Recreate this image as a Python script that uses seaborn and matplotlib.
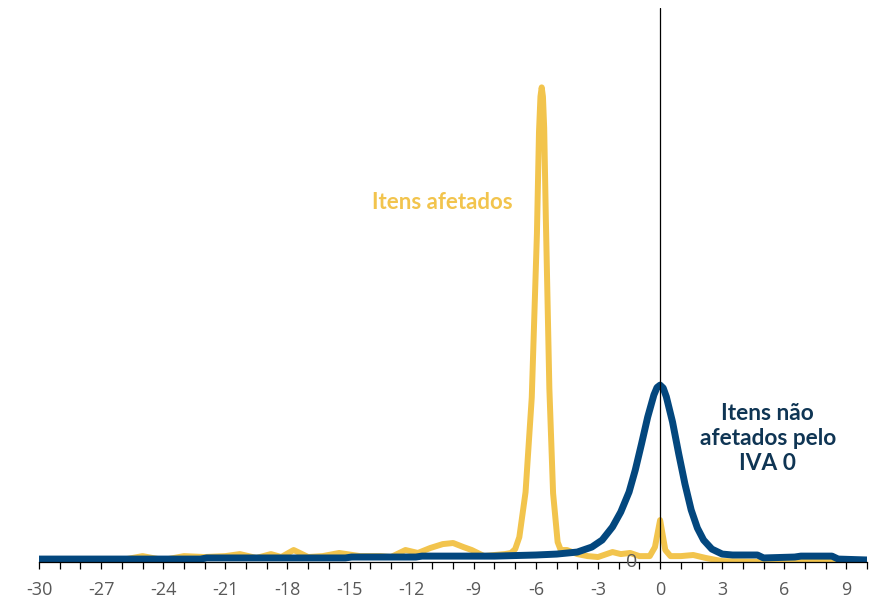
import numpy as np
import pandas as pd
import matplotlib
matplotlib.use("Agg")
import matplotlib.pyplot as plt
import seaborn as sns

# price change (%) vs share of items (%)
x_afetados = [-30, -29, -28, -27, -26.5, -26, -25, -24, -23, -22, -21, -20.3, -19.5,
              -18.8, -18.3, -17.7, -17.0, -16.3, -15.5, -14.5, -13.5, -13.0, -12.3,
              -11.7, -11.1, -10.5, -10.0, -9.5, -9.1, -8.5, -8.0, -7.5, -7.2, -7.0,
              -6.8, -6.5, -6.2, -5.95, -5.85, -5.78, -5.72, -5.66, -5.6, -5.52, -5.35,
              -5.17, -4.95, -4.8, -4.5, -4.0, -3.5, -3.0, -2.3, -1.9, -1.45, -1.0, -0.5,
              -0.25, 0, 0.25, 0.5, 1.0, 1.6, 2.2, 3.0, 4, 5, 6, 7, 8, 9, 10]
y_afetados = [0.05, 0.05, 0.05, 0.16, 0.16, 0.11, 0.32, 0.11, 0.32, 0.27, 0.32, 0.43, 0.22,
              0.43, 0.27, 0.65, 0.27, 0.32, 0.49, 0.32, 0.32, 0.27, 0.65,
              0.49, 0.76, 0.97, 1.03, 0.81, 0.65, 0.32, 0.38, 0.43, 0.49, 0.70,
              1.35, 3.78, 8.91, 17.8, 23.3, 25.2, 25.7, 25.2, 23.5, 18.6, 9.4,
              3.73, 1.08, 0.65, 0.65, 0.43, 0.32, 0.27, 0.54, 0.43, 0.49, 0.32, 0.32,
              0.81, 2.27, 0.65, 0.32, 0.32, 0.38, 0.22, 0.05, 0.03, 0.0, 0.0, 0.05, 0.05, 0.0, 0.0]

x_nao_afetados = [-30, -22.2, -21.9, -15.2, -14.9, -11.8, -11.5, -8, -6, -5, -4, -3.3,
                  -2.8, -2.3, -1.9, -1.5, -1.2, -0.9, -0.6, -0.3, -0.15, 0, 0.15, 0.3,
                  0.6, 0.9, 1.2, 1.5, 1.8, 2.1, 2.5, 3.0, 3.5, 4.7, 5.0, 6.5, 6.8, 8.3,
                  8.6, 10]
y_nao_afetados = [0.16, 0.16, 0.22, 0.22, 0.27, 0.27, 0.32, 0.32, 0.38, 0.43, 0.54, 0.81,
                  1.19, 1.90, 2.71, 3.79, 4.98, 6.39, 7.85, 9.05, 9.45, 9.58, 9.42, 8.95,
                  7.58, 5.85, 4.22, 2.82, 1.84, 1.19, 0.70, 0.43, 0.38, 0.38, 0.22, 0.27,
                  0.32, 0.32, 0.16, 0.11]

x_ticks = list(range(-30, 10, 3))

AMARELO = "#f2c44d"
AZUL = "#03477e"
AZUL_TEXTO = "#0f3554"

sns.set_style("white")
plt.rcParams['font.family'] = ['Open Sans', 'DejaVu Sans']
plt.rcParams['axes.unicode_minus'] = False

df_a = pd.DataFrame({"x": x_afetados, "y": y_afetados})
df_n = pd.DataFrame({"x": x_nao_afetados, "y": y_nao_afetados})

fig = plt.figure(figsize=(8.73, 6.0), dpi=100)
ax = fig.add_axes([0.0447, 0.0633, 0.9486, 0.9234])

sns.lineplot(data=df_a, x="x", y="y", ax=ax, color=AMARELO, linewidth=4.3,
             solid_joinstyle="round", solid_capstyle="round", sort=False)
sns.lineplot(data=df_n, x="x", y="y", ax=ax, color=AZUL, linewidth=5.0,
             solid_joinstyle="round", solid_capstyle="round", sort=False)

ax.axvline(0, color="black", linewidth=0.9, zorder=5)

ax.set_xlim(-30, 10)
ax.set_ylim(0, 30)
ax.set_xticks(x_ticks)
ax.set_xticks(range(-30, 11), minor=True)
ax.set_yticks([])
ax.set_xlabel("")
ax.set_ylabel("")
ax.tick_params(axis="x", which="both", direction="out", length=5, width=0.9,
               color="black", labelsize=13, labelcolor="#595959", pad=9, bottom=True)
for s in ["top", "left", "right"]:
    ax.spines[s].set_visible(False)
ax.spines["bottom"].set_color("black")
ax.spines["bottom"].set_linewidth(0.9)

ax.text(-1.4, 0, "0", ha="center", va="center", fontsize=14, color="#595959")

ax.text(-10.5, 19.45, "Itens afetados", ha="center", va="center",
        fontsize=16, fontweight="bold", color=AMARELO,
        family=['Lato', 'DejaVu Sans'])
ax.text(5.2, 6.7, "Itens não\nafetados pelo\nIVA 0", ha="center", va="center",
        fontsize=16.3, fontweight="bold", color=AZUL_TEXTO, linespacing=1.25,
        family=['Lato', 'DejaVu Sans'])

fig.savefig("out.png", dpi=100)
